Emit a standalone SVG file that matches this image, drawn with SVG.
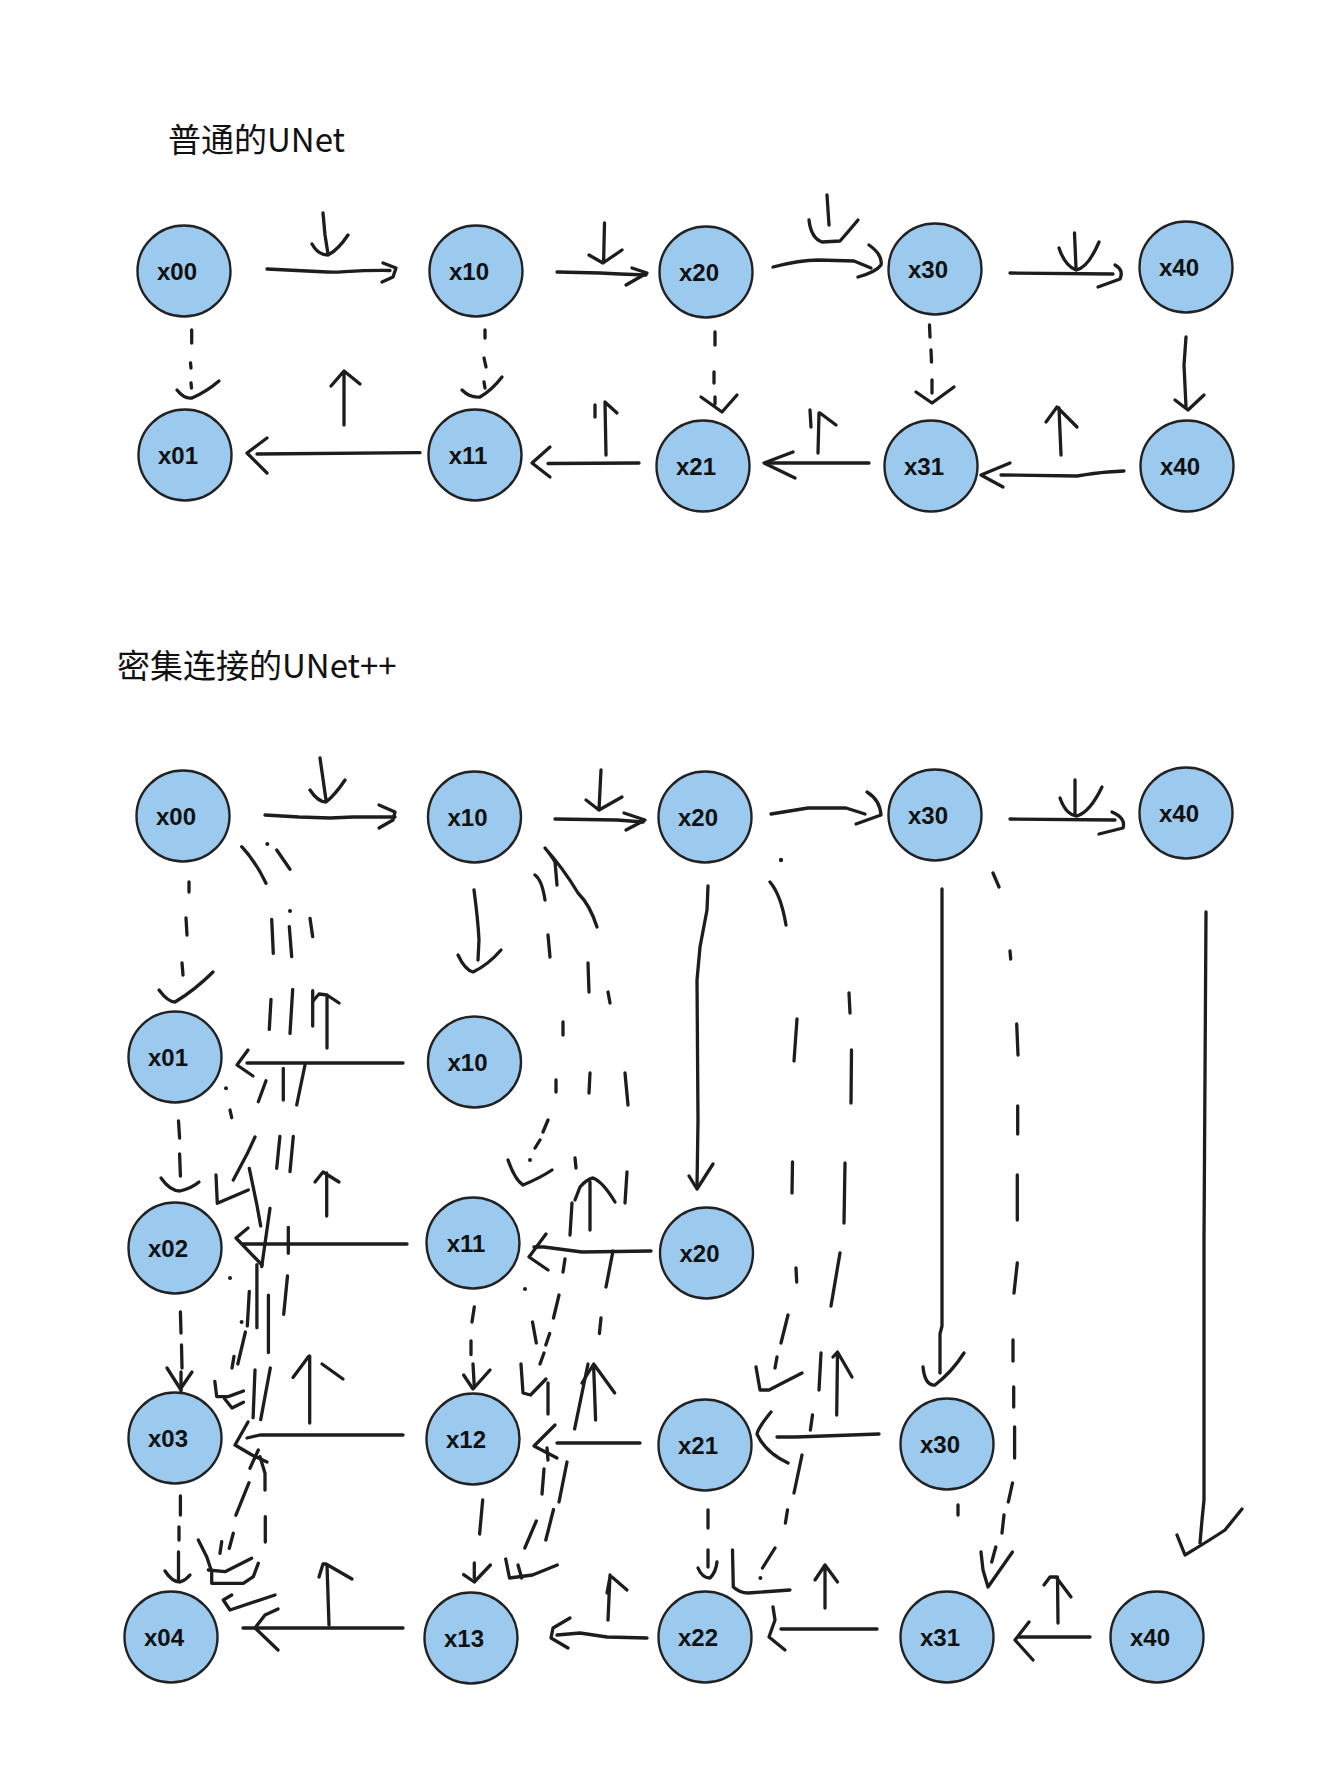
<svg xmlns="http://www.w3.org/2000/svg" width="1339" height="1784" viewBox="0 0 1339 1784">
<style>
.bg{fill:#ffffff}
.t{font-family:"Noto Sans CJK SC","Liberation Sans",sans-serif;font-size:33px;fill:#111}
.n ellipse{fill:#9ccaee;stroke:#222;stroke-width:2.4}
.n text{font-family:"Liberation Sans",Arial,sans-serif;font-weight:bold;font-size:24px;fill:#111;text-anchor:middle}
#connectors path{fill:none;stroke:#1d1d1d;stroke-width:3.3;stroke-linecap:round;stroke-linejoin:round}
#connectors circle{fill:#1d1d1d}
</style>
<rect class="bg" x="0" y="0" width="1339" height="1784"/>
<text class="t" x="168" y="152">普通的UNet</text>
<text class="t" x="117" y="678">密集连接的UNet++</text>

<g id="connectors">
<!-- ===== TOP: plain UNet ===== -->
<!-- x00 -> x10 -->
<path d="M267 269 C290 270 310 271 327 272 C340 273 350 270 390 270.5"/>
<path d="M383 263 L396 268 L393 277 L382 282"/>
<path d="M323 213 L325 235 L328 254"/>
<path d="M312 244 Q318 255 328 255 Q338 250 348 235"/>
<!-- x00 -> x01 dashed -->
<path d="M191.7 330 L191.7 343 M190.5 363 L191 368 M191 383 L191.5 388"/>
<path d="M177 390 Q184 399 192 398 Q206 392 219 381"/>
<!-- x11 -> x01 -->
<path d="M257 454 L420 452.7"/>
<path d="M267 438 L247 453 L267 473"/>
<path d="M344 425 L344 372 M331 386 L344 371 L360 384"/>
<!-- x10 -> x11 dashed -->
<path d="M485 330 L485 338 M484 358 L486 367 M484 382 L485 388"/>
<path d="M462 390 Q470 398 480 397 Q492 390 502 377"/>
<!-- x10 -> x20 -->
<path d="M557 272 L600 273 L620 274 L646 275"/>
<path d="M632 268 L647 273 L626 285"/>
<path d="M604.5 223 L603.6 262 M589 255 L603 263 L622 250"/>
<!-- x20 -> x30 -->
<path d="M773 267 Q800 260 818 260 L854 261 L871 268"/>
<path d="M869 245 Q883 255 881 265 Q876 272 858 277"/>
<path d="M827 195 L829 225"/>
<path d="M809 220 Q811 238 822 242 L840 241 Q848 232 858 220"/>
<!-- x30 -> x40 -->
<path d="M1010 273 L1113 274"/>
<path d="M1115 265 Q1124 270 1120 279 L1098 287"/>
<path d="M1074.5 233 L1076 268"/>
<path d="M1059 248 Q1065 266 1076 270 Q1088 268 1099 242"/>
<!-- x20 -> x21 dashed -->
<path d="M715 332 L715 345 M714 372 L714 383 M715 397 L715 404"/>
<path d="M701 397 L722 412 L737 395"/>
<!-- x30 -> x31 dashed -->
<path d="M929.5 325 L930 337 M931 350 L931.5 362 M932 380 L932 393"/>
<path d="M916 392 L932 403 L954 387"/>
<!-- x40 -> x40 -->
<path d="M1186 337 L1184 365 L1186 407"/>
<path d="M1175 400 L1188 410 L1204 395"/>
<!-- x21 -> x11 -->
<path d="M548 463.5 L639 463"/>
<path d="M550 447 L532 463 L550 477"/>
<path d="M606 455 L605 402 M595 405 L595 417 M606 403 L617 413"/>
<!-- x31 -> x21 -->
<path d="M769 463 L869 463"/>
<path d="M793 452 L764 463 L795 478"/>
<path d="M818 453 L819 413 M810 410 L811 427 M820 413 L836 425"/>
<!-- x40 -> x31 -->
<path d="M1001 475 L1077 476 Q1095 473 1108 472 L1124 471"/>
<path d="M1010 463 L981 475 L1003 487"/>
<path d="M1061 455 L1059 408 M1046 422 L1057 407 L1077 427"/>

<!-- ===== BOTTOM: UNet++ ===== -->
<!-- row 0 -->
<path d="M265 815 L299 817 L330 818 L353 817 L395 817"/>
<path d="M379 805 L395 812 L393 820 L379 828"/>
<path d="M320 758 L326 800 M310 790 Q318 802 326 802 Q335 795 345 780"/>
<path d="M555 819 L617 820 L643 822"/>
<path d="M624 813 L645 820 L626 830"/>
<path d="M601 770 L599 810 M586 800 L599 810 L622 797"/>
<path d="M771 814 Q790 811 808 808 L846 808 L865 814"/>
<path d="M867 792 Q880 800 881 815 L856 824"/>
<path d="M1010 819 L1115 820"/>
<path d="M1112 812 Q1126 818 1123 828 L1099 834"/>
<path d="M1075 780 L1075 815 M1060 798 Q1066 815 1077 816 Q1090 812 1102 787"/>

<!-- vertical column x0 -->
<path d="M189 882 L189 892 M186 918 L187 935 M182 963 L183 975"/>
<path d="M159 990 Q168 1002 175 1002 Q195 990 213 972"/>
<path d="M178.5 1121 L179.6 1138 M179.6 1154 L180.4 1176"/>
<path d="M161 1178 Q170 1191 180 1191 Q192 1188 199 1182"/>
<path d="M180.4 1312 L181 1333 M181.5 1345 L182 1368 M181 1372 L181 1391"/>
<path d="M167 1368 L180.4 1389 L192 1372"/>
<path d="M180.4 1496 L180.4 1515 M179 1527 L179 1540 M178.5 1552 L178.5 1580"/>
<path d="M165 1571 Q172 1582 180 1582 Q186 1580 190 1575"/>

<!-- x10 -> x10 (row1) -->
<path d="M474 890 Q478 920 479 940 L478 960"/>
<path d="M458 955 Q465 970 473 972 Q488 965 501 950"/>
<!-- x20 -> x20 (row2) -->
<path d="M708 886 L707 910 L700 947 L697 980 L698 1120 L697 1187"/>
<path d="M689 1176 L697 1189 L713 1164"/>
<!-- x30 -> x30 (row3) -->
<path d="M942 889 L942 1326 L940 1334 L940 1373"/>
<path d="M923 1367 Q925 1386 935 1385 Q952 1372 964 1353"/>
<!-- x40 -> x40 (row4) -->
<path d="M1206 912 L1204 1240 L1204 1500 L1202 1520 L1200 1543"/>
<path d="M1177 1535 L1185 1555 Q1210 1540 1225 1530 L1242 1509"/>
<!-- x30 dashed -> x31 -->
<path d="M993 873 L999 887 M1010 951 L1010.7 959 M1016.7 1024 L1018 1055 M1017.7 1106 L1017.7 1134 M1017.3 1175 L1017.3 1220 M1017.3 1263 L1014 1293 M1013 1340 L1013 1361 M1013.7 1387 L1013.7 1407 M1014.6 1427 L1014.6 1458 M1012.5 1483 L1008.3 1502 M1004 1515 L1002 1533 M995.8 1547 L991.7 1562"/>
<path d="M981 1552 L983 1570 L988 1587 L1012.5 1552"/>
<!-- x20 dashed -> x21, x22 -->
<circle cx="781" cy="860" r="2.2"/>
<path d="M770 882 Q781 895 786 925 M797 1019 L794 1061 M792.5 1162 L792 1193 M796 1268 L796.7 1282 M788 1315 L781 1343 M777 1357 L775 1368"/>
<path d="M756 1367 L760 1390 L769 1390 L802 1373"/>
<path d="M849 993 L850 1013 M851.5 1050 L851 1103 M845 1163 L844 1223 M840 1253 L831 1306 M821 1353 L819 1390 M812.5 1415 L810.4 1430 M802 1455 L794 1493 M787.5 1510 L785.4 1523 M775 1548 L762.5 1568"/>
<circle cx="760.4" cy="1578" r="2"/>
<path d="M732.5 1550 L733.3 1587 Q740 1593 748 1593 L790 1590"/>
<path d="M837.5 1353 L836.7 1415 M833 1357 L837.5 1352 L852 1377"/>
<!-- x30 (row3) -> x21 -->
<path d="M777 1437 L796 1437 L879 1434"/>
<path d="M771 1412 Q758 1428 757 1434 Q765 1452 788 1463"/>
<path d="M958 1505 L958 1515"/>
<!-- x31 -> x22 -->
<path d="M781 1629 L877 1629"/>
<path d="M773 1607 L775 1620 L769 1637 L785 1650"/>
<path d="M825 1608 L825 1565 M815 1580 L825 1565 L837.5 1582"/>
<!-- x40 -> x31 -->
<path d="M1019 1637 L1090 1637"/>
<path d="M1029 1622 L1015 1640 L1033 1660"/>
<path d="M1058 1623 L1057.5 1577 M1044 1585 L1050 1577 L1056 1577 L1071 1597"/>
<!-- x21 -> x22 dashed -->
<path d="M708 1510 L708 1528 M708 1550 L708 1567"/>
<path d="M698 1568 Q702 1578 710 1578 Q716 1572 717 1562"/>

<!-- horizontal to column 0 -->
<path d="M247 1063 L403 1063"/>
<path d="M248 1050 L237 1065 L253 1076"/>
<path d="M243 1244 L407 1244"/>
<path d="M248 1228 L236 1238 L262 1265"/>
<path d="M247 1438 L260 1435 L403 1435"/>
<path d="M248 1422 L235 1445 L252 1455 L267 1462"/>
<path d="M243 1628 L403 1628"/>
<path d="M278 1609 L265 1615 L255 1628 L278 1650"/>
<path d="M329 1625 L327 1565 M319 1577 L323 1564 L326 1564 L352 1579"/>
<path d="M309.7 1423 L309.7 1356 M293 1377.5 L308.6 1356.4 M322 1364 L343 1379"/>
<path d="M326.7 1216 L326.7 1173 M315 1182 L323 1172 L339 1182"/>
<path d="M327 995 L327 1048 M313 1001 L319 994 L327 995 L339 1003"/>

<!-- dense skip strokes between column 0 and column 1 -->
<path d="M241.7 846.7 Q256 862 266 883.3"/>
<circle cx="267.3" cy="844" r="2"/>
<path d="M276.7 850 L290 869.3"/>
<path d="M271.7 919.3 L273.3 953.3"/>
<circle cx="290" cy="911" r="2"/>
<path d="M289.3 926.7 L291.7 956.7"/>
<path d="M310 918.3 L312.7 936.7"/>
<path d="M271 999.3 L269.3 1029.3 M292.7 989.3 L290 1033.3 M312.7 990.7 L312.7 1026"/>
<path d="M266 1080.7 L258.3 1101.7 M283.3 1068.3 L283.3 1100 M305 1065 L296.7 1105"/>
<circle cx="226" cy="1088.3" r="2"/>
<path d="M230 1110 L231.7 1117.7"/>
<path d="M255 1137 L247.3 1153.6 L233.3 1180"/>
<path d="M279.9 1136.4 L276.7 1168.3 M293.3 1136.4 L290 1171.7"/>
<path d="M216 1175 L217.3 1203.3 L248.3 1190"/>
<path d="M249.3 1168.3 L256.9 1205 L260.7 1226"/>
<path d="M270 1208.3 L261.7 1266.7 M288.3 1227.3 L288.3 1253.3"/>
<circle cx="230" cy="1278" r="2"/>
<path d="M256.9 1264.6 L256.9 1327.7 M249.3 1291.4 L247.3 1325.8 M268.4 1295.2 L268.4 1352.6 M287.5 1276 L283.7 1314.3"/>
<circle cx="241.6" cy="1322" r="2"/>
<path d="M245.4 1332 L237.8 1364 M234 1356.4 L232 1368"/>
<path d="M214.8 1381.3 L216.7 1396.6 L228.2 1396.6 L243.5 1391 M224.4 1398.5 L232 1408 L243.5 1402.3"/>
<path d="M270.3 1368 L260.7 1419.6 M255 1369.8 L253.1 1417.7"/>
<path d="M258.3 1450 L250 1468.3 M260 1456.7 L265 1473.3 L265 1490"/>
<path d="M249 1482.7 L235.9 1515.2 M233.3 1533.3 L229.3 1548.3 M221.7 1541.7 L220 1553.3 M265.3 1516.7 L265.3 1542"/>
<path d="M198.3 1540 L206.7 1556.7 L211.7 1571.7 L211.7 1583.3 L243.3 1583.3 L253.3 1576.7 L258.3 1563.3"/>
<path d="M208.3 1570 L225 1571.7 L251.7 1558.3"/>
<path d="M231.7 1595 L223.3 1600 L230 1610 L275 1595"/>

<!-- column 1 dashed -->
<path d="M474.3 1307 L472 1322 M471 1341 L471 1354.5 M473 1364 L474.3 1387"/>
<path d="M463.6 1375 L473 1389 L490 1370"/>
<path d="M482.7 1500 L479.6 1534 M474.3 1563 L474.3 1578"/>
<path d="M463.6 1574.6 L474.3 1582 L490.4 1565"/>
<!-- x20 (row2) -> x11 -->
<path d="M534 1247 L544 1247 L582 1252 L651 1251"/>
<path d="M546 1234 L529 1257 L548 1270"/>
<path d="M613 1251 L606 1287"/>
<!-- x21 -> x12 -->
<path d="M557 1443 L640 1443"/>
<path d="M555 1425 L534 1446 L557 1458"/>
<!-- x22 -> x13 -->
<path d="M557 1635 L580 1633 L607 1637 L647 1638"/>
<path d="M570 1618 L553 1628 L551 1638 L568 1648"/>
<path d="M608 1620 L610 1575 M612 1577 L627 1590 M607 1593 L610 1577"/>

<!-- skip strokes between column 1 and column 2 -->
<path d="M597 927 Q590 905 578 893 Q563 868 545 848 Q553 858 555 862 L557 885"/>
<path d="M535 875 Q542 880 545 900 M548 935 L550 957 M563 1022 L563 1035 M556 1080 L556 1092 M548 1120 L543 1132 M540 1140 L535 1148"/>
<circle cx="530" cy="1160" r="2"/>
<path d="M508 1160 Q515 1180 523 1185 Q540 1178 552 1170"/>
<path d="M588 963 L589 992 M608 992 L610 1003 M590 1073 L589 1093 M625 1073 L628 1105 M575 1158 L576 1168 M627 1172 L625 1203"/>
<path d="M590 1182 L590 1230 M575 1200 L580 1187 Q587 1179 593 1178 Q603 1182 615 1202 M572 1203 L570 1235"/>
<circle cx="525" cy="1289" r="2"/>
<path d="M565 1259 L563 1272 M559 1295 L553.5 1318 M549.7 1333.5 L545.8 1345 M544 1353 L540 1364 M532.5 1322 L536.3 1343"/>
<path d="M521 1364 L523 1393 L530.5 1395 L546 1379 M548 1383 L548 1414 M547 1448 L548 1460"/>
<path d="M601 1318 L599.4 1333.5 M588 1364 L574.6 1429"/>
<path d="M595.6 1420 L593.7 1368 M582 1383 L593.7 1364 L614.7 1393"/>
<path d="M567 1462 L559 1502 M544 1469 L542 1494 M553.5 1509.5 L545.8 1540 M536.3 1521 L524.8 1548"/>
<path d="M505.7 1559 L509.5 1578 L532.5 1575 L557.3 1565 M518 1565 L521.7 1578"/>
</g>

<!-- ===== NODES: top ===== -->
<g id="t_x00" class="n"><ellipse cx="184" cy="271" rx="46.5" ry="45.5"/><text x="177" y="280">x00</text></g>
<g id="t_x10" class="n"><ellipse cx="476" cy="271" rx="46.5" ry="45.5"/><text x="469" y="280">x10</text></g>
<g id="t_x20" class="n"><ellipse cx="706" cy="272" rx="46.5" ry="45.5"/><text x="699" y="281">x20</text></g>
<g id="t_x30" class="n"><ellipse cx="935" cy="269" rx="46.5" ry="45.5"/><text x="928" y="278">x30</text></g>
<g id="t_x40a" class="n"><ellipse cx="1186" cy="267" rx="46.5" ry="45.5"/><text x="1179" y="276">x40</text></g>
<g id="t_x01" class="n"><ellipse cx="185" cy="455" rx="46.5" ry="45.5"/><text x="178" y="464">x01</text></g>
<g id="t_x11" class="n"><ellipse cx="475" cy="455" rx="46.5" ry="45.5"/><text x="468" y="464">x11</text></g>
<g id="t_x21" class="n"><ellipse cx="703" cy="466" rx="46.5" ry="45.5"/><text x="696" y="475">x21</text></g>
<g id="t_x31" class="n"><ellipse cx="931" cy="466" rx="46.5" ry="45.5"/><text x="924" y="475">x31</text></g>
<g id="t_x40b" class="n"><ellipse cx="1187" cy="466" rx="46.5" ry="45.5"/><text x="1180" y="475">x40</text></g>

<!-- ===== NODES: bottom ===== -->
<g id="b_x00" class="n"><ellipse cx="183" cy="816" rx="46.5" ry="45.5"/><text x="176" y="825">x00</text></g>
<g id="b_x10" class="n"><ellipse cx="474.5" cy="817" rx="46.5" ry="45.5"/><text x="467.5" y="826">x10</text></g>
<g id="b_x20" class="n"><ellipse cx="705" cy="817" rx="46.5" ry="45.5"/><text x="698" y="826">x20</text></g>
<g id="b_x30" class="n"><ellipse cx="935" cy="815" rx="46.5" ry="45.5"/><text x="928" y="824">x30</text></g>
<g id="b_x40a" class="n"><ellipse cx="1186" cy="813" rx="46.5" ry="45.5"/><text x="1179" y="822">x40</text></g>
<g id="b_x01" class="n"><ellipse cx="175" cy="1057" rx="46.5" ry="45.5"/><text x="168" y="1066">x01</text></g>
<g id="b_x10b" class="n"><ellipse cx="474.5" cy="1062" rx="46.5" ry="45.5"/><text x="467.5" y="1071">x10</text></g>
<g id="b_x02" class="n"><ellipse cx="175" cy="1248" rx="46.5" ry="45.5"/><text x="168" y="1257">x02</text></g>
<g id="b_x11" class="n"><ellipse cx="473" cy="1243" rx="46.5" ry="45.5"/><text x="466" y="1252">x11</text></g>
<g id="b_x20b" class="n"><ellipse cx="706.5" cy="1253" rx="46.5" ry="45.5"/><text x="699.5" y="1262">x20</text></g>
<g id="b_x03" class="n"><ellipse cx="175" cy="1438" rx="46.5" ry="45.5"/><text x="168" y="1447">x03</text></g>
<g id="b_x12" class="n"><ellipse cx="473" cy="1439" rx="46.5" ry="45.5"/><text x="466" y="1448">x12</text></g>
<g id="b_x21" class="n"><ellipse cx="705" cy="1445" rx="46.5" ry="45.5"/><text x="698" y="1454">x21</text></g>
<g id="b_x30b" class="n"><ellipse cx="947" cy="1444" rx="46.5" ry="45.5"/><text x="940" y="1453">x30</text></g>
<g id="b_x04" class="n"><ellipse cx="171" cy="1637" rx="46.5" ry="45.5"/><text x="164" y="1646">x04</text></g>
<g id="b_x13" class="n"><ellipse cx="471" cy="1638" rx="46.5" ry="45.5"/><text x="464" y="1647">x13</text></g>
<g id="b_x22" class="n"><ellipse cx="705" cy="1637" rx="46.5" ry="45.5"/><text x="698" y="1646">x22</text></g>
<g id="b_x31" class="n"><ellipse cx="947" cy="1637" rx="46.5" ry="45.5"/><text x="940" y="1646">x31</text></g>
<g id="b_x40b" class="n"><ellipse cx="1157" cy="1637" rx="46.5" ry="45.5"/><text x="1150" y="1646">x40</text></g>
</svg>
